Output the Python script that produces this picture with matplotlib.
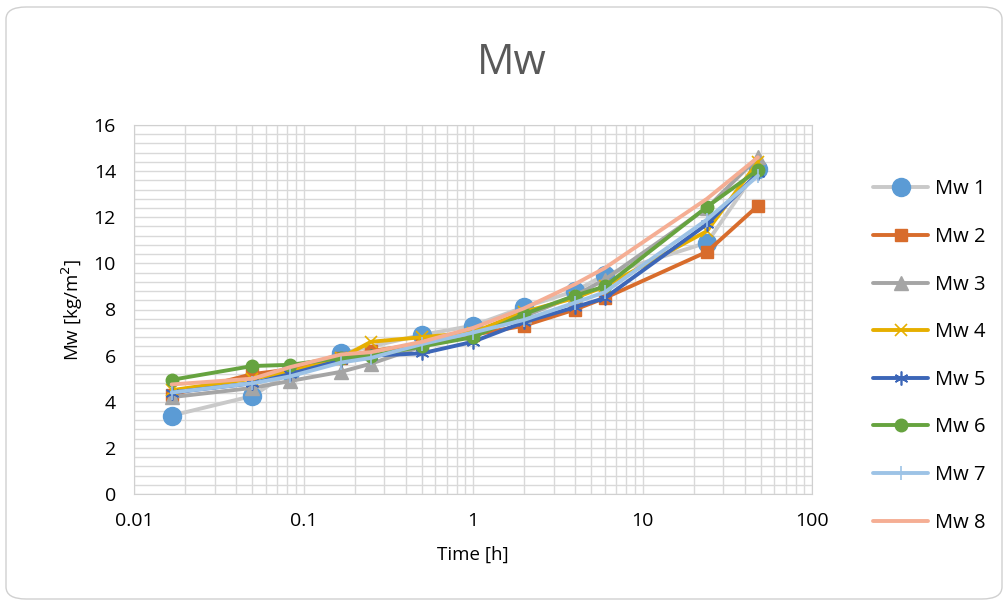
import numpy as np
import matplotlib
matplotlib.use("Agg")
import matplotlib.pyplot as plt
from matplotlib.patches import FancyBboxPatch
from matplotlib.ticker import FixedLocator, NullFormatter, FuncFormatter

plt.rcParams['font.family'] = ['Open Sans', 'DejaVu Sans']

# sampling times [h]
t = [1/60, 0.05, 1/12, 1/6, 0.25, 0.5, 1, 2, 4, 6, 24, 48]
t1 = [1/60, 0.05, 1/12, 1/6, 0.5, 1, 2, 4, 6, 24, 48]  # Mw 1 has no 15 min point

mw1 = [3.4, 4.25, 5.3, 6.1, 6.9, 7.3, 8.1, 8.8, 9.5, 10.9, 14.1]
mw2 = [4.3, 5.2, 5.4, 5.9, 6.2, 6.5, 6.9, 7.3, 8.0, 8.5, 10.5, 12.5]
mw3 = [4.2, 4.6, 4.9, 5.3, 5.65, 6.4, 7.0, 7.7, 8.6, 9.3, 12.4, 14.6]
mw4 = [4.5, 5.0, 5.3, 5.9, 6.6, 6.8, 7.0, 7.9, 8.5, 9.0, 11.4, 14.4]
mw5 = [4.4, 4.8, 5.2, 5.8, 6.0, 6.1, 6.6, 7.45, 8.1, 8.5, 11.7, 13.9]
mw6 = [4.95, 5.55, 5.6, 5.9, 6.0, 6.4, 6.8, 7.8, 8.6, 9.0, 12.45, 14.05]
mw7 = [4.4, 4.8, 5.1, 5.7, 5.9, 6.5, 7.0, 7.55, 8.3, 8.75, 11.9, 13.8]
mw8 = [4.75, 5.0, 5.5, 6.05, 6.15, 6.6, 7.2, 8.05, 9.1, 9.8, 12.8, 14.6]

labels = ['Mw 1', 'Mw 2', 'Mw 3', 'Mw 4', 'Mw 5', 'Mw 6', 'Mw 7', 'Mw 8']

fig = plt.figure(figsize=(10.08, 6.09), dpi=100)
ax = fig.add_axes([134/1008, 1-494/609, (812-134)/1008, (494-125)/609])

# rounded chart border
fig.patches.append(FancyBboxPatch((6/1008, 10/609), 996/1008, 592/609,
                                  boxstyle="round,pad=0,rounding_size=0.02",
                                  transform=fig.transFigure, fc='white',
                                  ec='#d0d0d0', lw=1.0, zorder=-10))

lw = 2.8
series = [
    (t1, mw1, dict(color='#c9c9c9', marker='o', ms=13, mfc='#5b9bd5', mec='#5b9bd5')),
    (t, mw2, dict(color='#d86c2c', marker='s', ms=9, mfc='#d86c2c', mec='#d86c2c')),
    (t, mw3, dict(color='#a5a5a5', marker='^', ms=10, mfc='#a5a5a5', mec='#a5a5a5')),
    (t, mw4, dict(color='#e6af00', marker='x', ms=9, mew=1.2, mec='#e6af00')),
    (t, mw5, dict(color='#3c66b8', marker=(6, 2, 0), ms=10, mew=1.2, mec='#3c66b8')),
    (t, mw6, dict(color='#66a33f', marker='o', ms=9, mfc='#66a33f', mec='#66a33f')),
    (t, mw7, dict(color='#9dc3e6', marker='|', ms=10, mew=1.2, mec='#9dc3e6')),
    (t, mw8, dict(color='#f5ae94', marker=None)),
]
for (x, y, kw), lab in zip(series, labels):
    ax.plot(x, y, lw=lw, label=lab, solid_capstyle='round', **kw)

ax.set_xscale('log')
ax.set_xlim(0.01, 100)
ax.set_ylim(0, 16)
ax.set_yticks(np.arange(0, 17, 2))
ax.yaxis.set_minor_locator(FixedLocator(np.arange(0, 16.01, 0.4)))
ax.xaxis.set_major_formatter(FuncFormatter(lambda v, p: '{:g}'.format(v)))
ax.xaxis.set_minor_formatter(NullFormatter())
ax.grid(True, which='both', color='#d9d9d9', lw=1.0)
ax.set_axisbelow(True)
ax.tick_params(which='both', length=0, labelsize=14, colors='#000000', pad=13)
for s in ax.spines.values():
    s.set_color('#d0d0d0')

ax.set_xlabel('Time [h]', fontsize=13.5, labelpad=11)
ax.set_ylabel('Mw [kg/m$^2$]', fontsize=13.5, labelpad=6)
fig.text(512/1008, 1-63/609, 'Mw', fontsize=30, color='#595959', ha='center', va='center')

fig.legend(loc='center left', bbox_to_anchor=(873/1008, 1-356/609), frameon=False,
           fontsize=14.5, labelspacing=1.37, handlelength=2.75, handletextpad=0.35,
           borderpad=0, borderaxespad=0)

fig.savefig('out.png', dpi=100)
